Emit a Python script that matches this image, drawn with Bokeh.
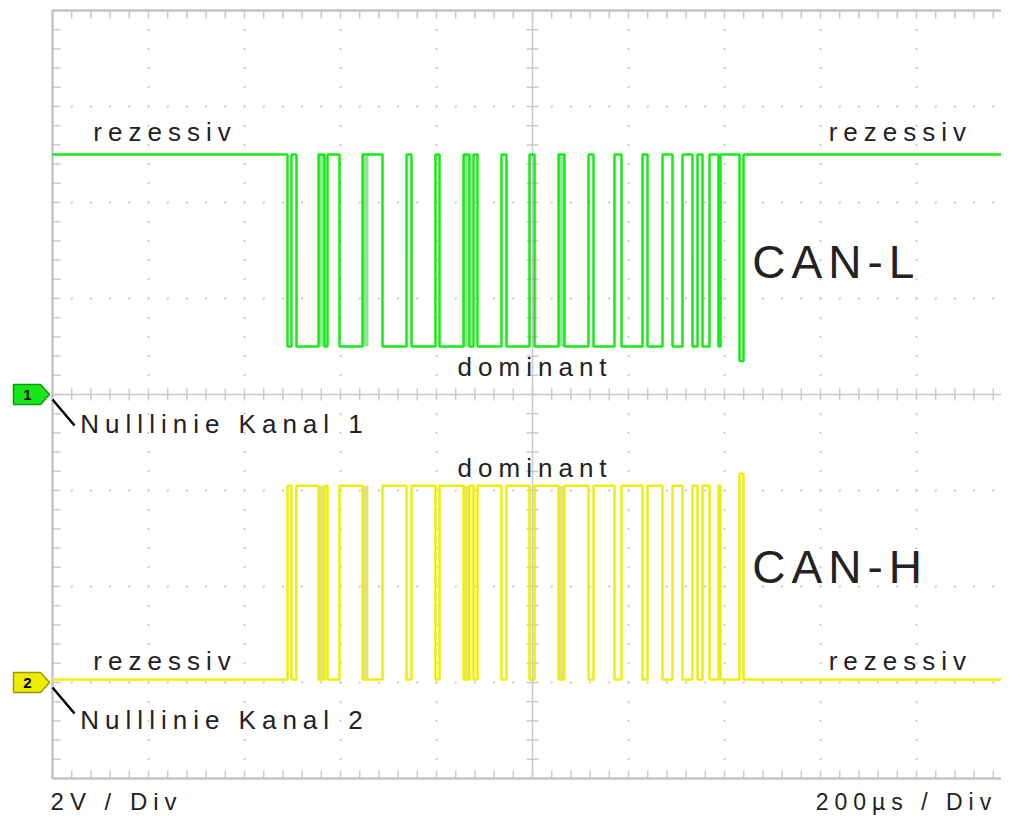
import numpy as np
from bokeh.plotting import figure
from bokeh.core.properties import value
from bokeh.embed import file_html
from bokeh.resources import INLINE

# ---------------- scope settings ----------------
US_PER_DIV = 200          # 200 µs / Div
V_PER_DIV = 2             # 2 V / Div
N_XDIV, N_YDIV = 10, 8

# ---------------- bus data (µs) ----------------
# dominant bit intervals (CAN-L low / CAN-H high)
dom_start_us = [489.6, 508.3, 566.7, 597.9, 687.5, 747.9, 806.3, 868.8, 885.4, 945.8,
                1004.2, 1066.7, 1127.1, 1185.4, 1239.6, 1291.7, 1333.3, 1354.2, 1387.5, 1431.3]
dom_end_us = [497.9, 554.2, 572.9, 645.8, 737.5, 797.9, 856.3, 877.1, 935.4, 993.8,
              1054.2, 1116.7, 1170.8, 1229.2, 1270.8, 1312.5, 1343.8, 1368.8, 1391.7, 1439.6]
# fast, unresolved toggling
burst_start_us = [554.2, 645.8, 856.3, 1054.2]
burst_end_us = [566.7, 658.3, 868.8, 1066.7]

# levels in volts relative to each channel's zero line
canl_rec_v = 5.0
canl_dom_v = [1.0, 1.0, 1.0, 1.0, 1.0, 1.0, 1.0, 1.0, 1.0, 1.0,
              1.0, 1.0, 1.0, 1.0, 1.0, 1.0, 1.0, 1.0, 1.0, 0.7]
canh_rec_v = 0.06
canh_dom_v = [4.1, 4.1, 4.1, 4.1, 4.1, 4.1, 4.1, 4.1, 4.1, 4.1,
              4.1, 4.1, 4.1, 4.1, 4.1, 4.1, 4.1, 4.1, 4.1, 4.35]
ch1_offset_v = 0.0
ch2_offset_v = -6.0

# ---------------- layout helpers ----------------
W, H = 1001, 817
T_END = US_PER_DIV * N_XDIV
V_TOP = V_PER_DIV * N_YDIV / 2
px_x = US_PER_DIV / 96.0      # µs per pixel
px_y = V_PER_DIV / 96.0       # V per pixel
x0 = -52 * px_x
y1 = V_TOP + 10 * px_y
p = figure(width=W, height=H, output_backend="svg", toolbar_location=None,
           x_range=(x0, x0 + W * px_x), y_range=(y1 - H * px_y, y1),
           min_border=0, outline_line_color=None)
p.axis.visible = False
p.grid.visible = False
p.background_fill_color = "white"
p.border_fill_color = "white"
p.stylesheets = [":host { letter-spacing: 6px; }"]

GRID = "#c9c9c9"
# dotted division lines
mx = np.arange(0, T_END + 1, US_PER_DIV / 5)
my = np.arange(-V_TOP, V_TOP + 0.01, V_PER_DIV / 5)
majx = [k * US_PER_DIV for k in range(1, N_XDIV) if k != N_XDIV // 2]
majy = [k * V_PER_DIV for k in range(-N_YDIV // 2 + 1, N_YDIV // 2) if k != 0]
dx, dy = [], []
for gx in majx:
    dx += [gx] * len(my); dy += list(my)
for gy in majy:
    dx += list(mx); dy += [gy] * len(mx)
p.scatter(dx, dy, marker="square", size=2, color=GRID, line_color=None)

# center cross lines
p.segment(x0=[0, T_END / 2], y0=[0, -V_TOP], x1=[T_END, T_END / 2], y1=[0, V_TOP],
          line_color=GRID, line_width=1.5)
# ticks
tl = 8
sx0, sy0, sx1, sy1 = [], [], [], []
for gx in mx:
    sx0 += [gx, gx, gx]; sx1 += [gx, gx, gx]
    sy0 += [V_TOP, -V_TOP, -6 * px_y]; sy1 += [V_TOP - tl * px_y, -V_TOP + tl * px_y, 6 * px_y]
for gy in my:
    sy0 += [gy, gy, gy]; sy1 += [gy, gy, gy]
    sx0 += [0, T_END, T_END / 2 - 6 * px_x]; sx1 += [tl * px_x, T_END - tl * px_x, T_END / 2 + 6 * px_x]
p.segment(x0=sx0, y0=sy0, x1=sx1, y1=sy1, line_color=GRID, line_width=1.5)
# outer frame
p.rect(x=[T_END / 2], y=[0], width=T_END, height=2 * V_TOP, fill_color=None,
       line_color="#c4c4c4", line_width=2.5)

# ---------------- traces ----------------
def trace(rec, doms, offset):
    xs, ys = [0], [rec + offset]
    for s, e, d in zip(dom_start_us, dom_end_us, doms):
        xs += [s, s, e, e]
        ys += [rec + offset, d + offset, d + offset, rec + offset]
    xs.append(T_END); ys.append(rec + offset)
    return xs, ys

GREEN, GREEN_PALE = "#17ea17", "#92e692"
YELLOW, YELLOW_PALE = "#eeee0a", "#e3e37a"

for bs, be in zip(burst_start_us, burst_end_us):
    p.quad(left=bs, right=be, bottom=canl_dom_v[0] + ch1_offset_v, top=canl_rec_v + ch1_offset_v,
           fill_color=GREEN_PALE, line_color=None)
    p.quad(left=bs, right=be, bottom=canh_rec_v + ch2_offset_v, top=canh_dom_v[0] + ch2_offset_v,
           fill_color=YELLOW_PALE, line_color=None)

lx, ly = trace(canl_rec_v, canl_dom_v, ch1_offset_v)
p.line(lx, ly, line_color=GREEN, line_width=2.5)
hx, hy = trace(canh_rec_v, canh_dom_v, ch2_offset_v)
p.line(hx, hy, line_color=YELLOW, line_width=2.5)

# ---------------- channel markers ----------------
for off, fc, lc, lab in [(ch1_offset_v, "#19e619", "#0d9a0d", "1"),
                         (ch2_offset_v, "#eeee00", "#9a9a00", "2")]:
    mxs = [-39 * px_x, -12 * px_x, -3 * px_x, -12 * px_x, -39 * px_x]
    mys = [off + 10 * px_y, off + 10 * px_y, off, off - 10 * px_y, off - 10 * px_y]
    p.patch(mxs, mys, fill_color=fc, line_color=lc, line_width=1.5)
    p.text(x=[-25 * px_x], y=[off], text=[lab], text_align="center", text_baseline="middle",
           text_font=value("Liberation Sans"), text_font_size="15px", text_font_style="bold",
           text_color="black")
    p.segment(x0=[0], y0=[off - 5 * px_y], x1=[22 * px_x], y1=[off - 31 * px_y],
              line_color="black", line_width=2.5)

# ---------------- labels ----------------
FONT = value("Liberation Sans")
TXT = "#222222"
def lab(x, base_px, s, size):
    # base_px: wanted baseline, in pixels from the top of the picture
    anchor_px = base_px - 0.4 * size
    p.text(x=[x], y=[(394 - anchor_px) * px_y], text=[s], text_font=FONT,
           text_font_size=f"{size}px", text_color=TXT,
           text_align="left", text_baseline="alphabetic")

lab(85, 142, "rezessiv", 26)
lab(1617, 142, "rezessiv", 26)
lab(844, 377, "dominant", 26)
lab(1458, 280, "CAN-L", 46)
lab(58, 434, "Nulllinie Kanal 1", 26)
lab(844, 478, "dominant", 26)
lab(1458, 585, "CAN-H", 46)
lab(85, 671, "rezessiv", 26)
lab(1617, 671, "rezessiv", 26)
lab(58, 730, "Nulllinie Kanal 2", 26)
lab(-4, 811, "2V / Div", 24)
lab(1590, 811, "200µs / Div", 23)

open("out.html", "w").write(file_html(p, INLINE))
